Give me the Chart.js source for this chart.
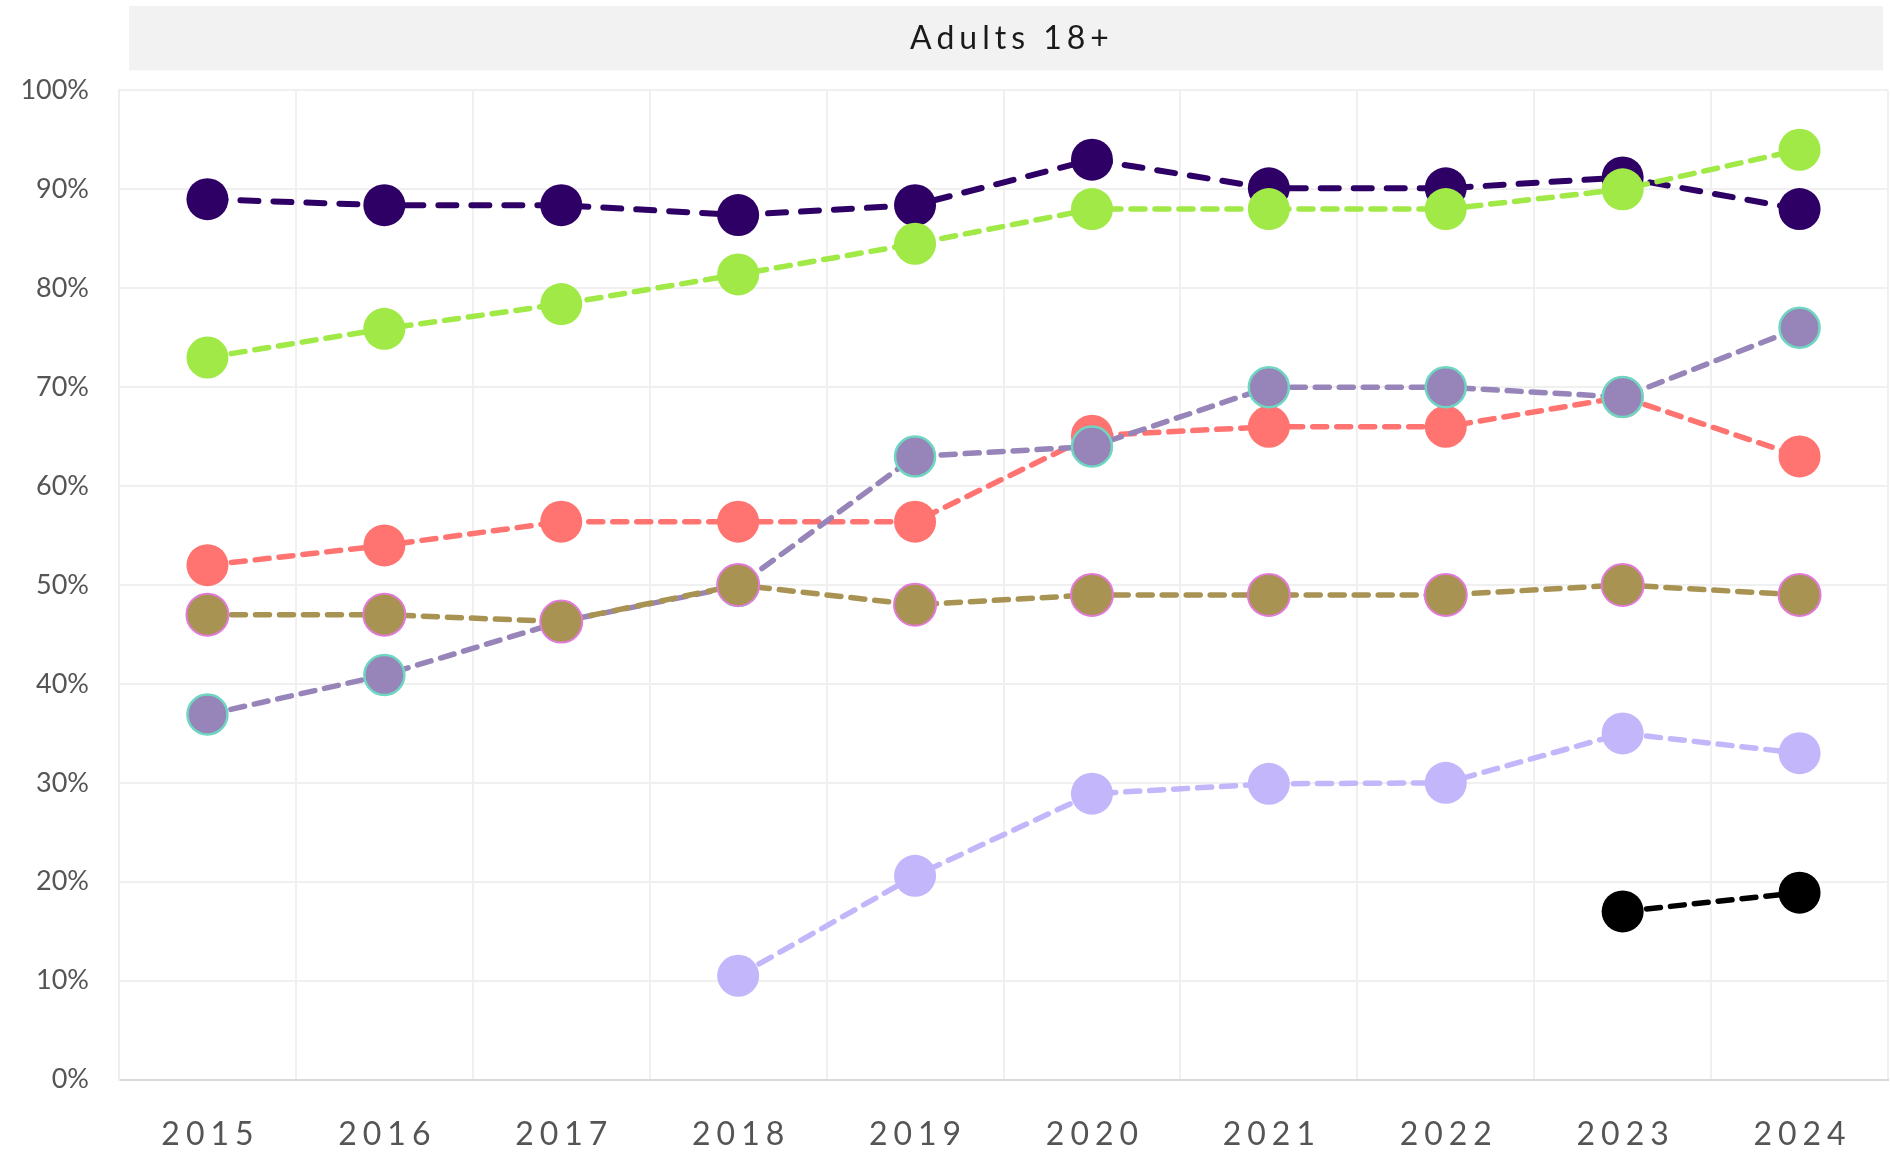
<!DOCTYPE html>
<html lang="en">
<head>
    <meta charset="UTF-8">
    <title>Adults 18+</title>
    <script src="https://cdn.jsdelivr.net/npm/chart.js"></script>
    <style>
        html, body { margin: 0; padding: 0; background: #fff; overflow: hidden; }
        canvas { display: block; }
    </style>
</head>
<body>
<canvas id="adultsChart" width="1890" height="1156"></canvas>

<script>
    // values (percent)
    const years = ['2015', '2016', '2017', '2018', '2019', '2020', '2021', '2022', '2023', '2024'];
    const darkPurple = [89, 88.4, 88.4, 87.4, 88.4, 93, 90.1, 90.1, 91.2, 88];
    const green = [73, 75.9, 78.4, 81.4, 84.5, 88, 88, 88, 90, 94];
    const salmon = [52, 54, 56.4, 56.4, 56.4, 65.1, 66, 66, 69, 63];
    const mauve = [36.9, 40.9, 46.3, 49.9, 63, 64, 70, 70, 69, 76];
    const gold = [47, 47, 46.3, 50, 48, 49, 49, 49, 50, 49];
    const lavender = [null, null, null, 10.5, 20.6, 28.9, 29.9, 30, 35, 33];
    const black = [null, null, null, null, null, null, null, null, 17, 18.9];
    const yTicks = [0, 10, 20, 30, 40, 50, 60, 70, 80, 90, 100];

    function series(data, color, opts) {
        return Object.assign({
            data: data,
            borderColor: color,
            backgroundColor: color,
            pointBackgroundColor: color,
            pointBorderColor: color,
            pointBorderWidth: 0,
            pointRadius: 21,
            pointHoverRadius: 21,
            borderWidth: 5.5,
            borderDash: [14, 10],
            borderCapStyle: 'round',
            tension: 0,
            fill: false,
            clip: false
        }, opts || {});
    }

    // spaced-out letters for the year labels and the title, plus the grey title box
    const spacing = {
        id: 'spacing',
        afterUpdate(chart) {
            const x = chart.scales.x;
            if (x && !x._spaced) {
                const drawLabels = x.drawLabels.bind(x);
                x.drawLabels = function (area) {
                    const c = chart.ctx;
                    c.save();
                    c.letterSpacing = '6px';
                    c.translate(3, 0);
                    drawLabels(area);
                    c.restore();
                };
                x._spaced = true;
            }
            const t = chart.titleBlock;
            if (t && !t._spaced) {
                const drawTitle = t.draw.bind(t);
                t.draw = function () {
                    const c = chart.ctx;
                    const a = chart.chartArea;
                    const boxLeft = a.left + 10;
                    const boxW = a.right - a.left - 15;
                    c.save();
                    c.fillStyle = '#f2f2f2';
                    c.fillRect(boxLeft, t.top, boxW, t.height - 20);
                    // centre the title over the grey box, not the whole canvas
                    c.translate(boxLeft + boxW / 2 - chart.width / 2 + 2, 0);
                    c.letterSpacing = '5px';
                    drawTitle();
                    c.restore();
                };
                t._spaced = true;
            }
        }
    };

    const ctx = document.getElementById('adultsChart').getContext('2d');
    new Chart(ctx, {
        type: 'line',
        data: {
            labels: years,
            datasets: [
                series(gold, '#a89352', { pointBorderColor: '#e27ad8', pointBorderWidth: 2 }),
                series(mauve, '#9784b9', { pointBorderColor: '#6fd6c2', pointBorderWidth: 2.5, pointRadius: 20 }),
                series(green, '#a0e946'),
                series(salmon, '#ff7470'),
                series(darkPurple, '#2e0066', { borderDash: [18, 15], borderWidth: 6 }),
                series(lavender, '#c3b6fb'),
                series(black, '#000000')
            ]
        },
        options: {
            responsive: false,
            animation: false,
            events: [],
            layout: { autoPadding: false, padding: { top: 6, left: 10, right: 2, bottom: 2 } },
            plugins: {
                legend: { display: false },
                tooltip: { enabled: false },
                title: {
                    display: true,
                    text: 'Adults 18+',
                    color: '#1a1a1a',
                    font: { family: 'Lato', size: 32, weight: 'normal', lineHeight: 1.2 },
                    padding: { top: 13, bottom: 33 }
                }
            },
            scales: {
                x: {
                    offset: true,
                    grid: {
                        offset: true, color: '#f0f0f0', lineWidth: 2,
                        drawTicks: true, tickLength: 36, tickColor: 'rgba(0,0,0,0)'
                    },
                    border: { color: '#d9d9d9', width: 2 },
                    ticks: {
                        color: '#555555',
                        padding: 0,
                        maxRotation: 0,
                        font: { family: 'Lato', size: 32 }
                    }
                },
                y: {
                    min: 0,
                    max: 100,
                    afterBuildTicks: (s) => { s.ticks = yTicks.map(v => ({ value: v })); },
                    afterFit: (s) => { s.width = 109; },
                    grid: {
                        color: '#f0f0f0', lineWidth: 2,
                        drawTicks: true, tickLength: 30, tickColor: 'rgba(0,0,0,0)'
                    },
                    border: { color: '#eeeeee', width: 2 },
                    ticks: {
                        color: '#555555',
                        padding: 0,
                        font: { family: 'Lato', size: 27 },
                        callback: (v) => v + '%'
                    }
                }
            }
        },
        plugins: [spacing]
    });
</script>
</body>
</html>
